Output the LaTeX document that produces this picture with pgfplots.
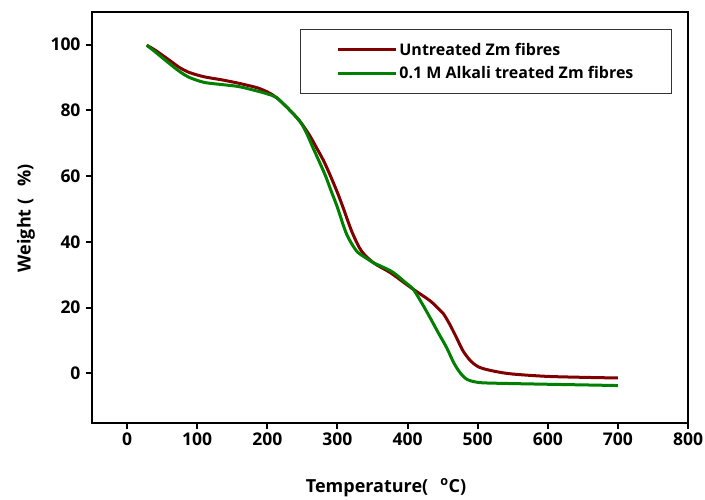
\documentclass[border=0pt]{standalone}
\usepackage{fontspec}
\setmainfont{Open Sans}
\usepackage{pgfplots}
\pgfplotsset{compat=1.18}
\definecolor{cred}{RGB}{128,0,0}
\definecolor{cgreen}{RGB}{0,128,0}
\begin{document}
\begin{tikzpicture}
\begin{axis}[
  scale only axis,
  width=596bp, height=411bp,
  xmin=-50, xmax=800, ymin=-15, ymax=110,
  xtick={0,100,...,800}, ytick={0,20,...,100},
  axis line style={line width=2bp},
  tick style={line width=2bp, black},
  major tick length=6bp,
  tick align=outside,
  xtick pos=bottom, ytick pos=left,
  /pgf/number format/assume math mode=true,
  tick label style={font=\fontsize{17.5bp}{19bp}\selectfont\bfseries},
  yticklabel style={xshift=-2bp},
  xticklabel style={yshift=-1bp},
  xlabel={Temperature(\hspace{12bp}\textsuperscript{o}C)},
  ylabel={Weight (\hspace{12bp}\%)},
  label style={font=\fontsize{18bp}{20bp}\selectfont\bfseries},
  xlabel style={at={(axis description cs:0.5,0)}, anchor=center, yshift=-65bp, xshift=-4bp},
  ylabel style={at={(axis description cs:0,0.5)}, anchor=center, xshift=-1bp, yshift=66bp},
  legend style={at={(0.349,0.958)}, anchor=north west, draw=black!80, line width=0.8bp,
    font=\fontsize{16bp}{18bp}\selectfont\bfseries, inner xsep=36bp, inner ysep=11.5bp,
    row sep=6bp},
  legend cell align=left,
  legend image code/.code={\draw[#1, line width=3bp] (0bp,0bp) -- (58bp,0bp);},
]
\addplot[cred, line width=3bp, smooth] coordinates {
(28,99.8) (40,98.3) (60,95.3) (75,93) (89,91.5) (110,90.2) (137,89.2) (160,88.2) (185,86.9) (200,85.6) (213,83.9) (230,80.5) (246,76.8) (260,72.5) (270,68.7) (280,64.8) (289,60.6) (300,55) (308,50.5) (315,46.3) (322,42.4) (334,37.3) (351,33.7) (375,30.7) (395,27.6) (408,25.6) (432,22.1) (445,19.5) (451,18.2) (460,15) (470,10.8) (479,6.9) (490,3.8) (503,1.8) (525,0.6) (550,-0.2) (598,-0.9) (650,-1.2) (700,-1.4)
};
\addlegendentry{Untreated Zm fibres}
\addplot[cgreen, line width=3bp, smooth] coordinates {
(28,99.8) (40,97.8) (60,94.3) (75,91.8) (89,90) (110,88.5) (137,87.8) (160,87.2) (185,85.9) (200,85) (213,83.9) (230,80.5) (246,76.8) (255,73.5) (265,68.7) (282,60.6) (291,55.5) (300,50.5) (313,42.4) (327,37.3) (340,35.2) (351,33.7) (361,32.7) (375,31.3) (384,30) (395,28) (408,25.6) (420,21.5) (432,17) (444,12.3) (455.6,7.9) (466,3.2) (474.6,0.3) (482,-1.4) (489,-2.2) (503,-2.8) (527,-3) (598,-3.3) (650,-3.5) (700,-3.7)
};
\addlegendentry{0.1 M Alkali treated Zm fibres}
\end{axis}
\pgfresetboundingbox
\useasboundingbox (current axis.south west) ++(-92bp,-76.3bp) rectangle ([xshift=17bp,yshift=11.7bp]current axis.north east);
\end{tikzpicture}
\end{document}
